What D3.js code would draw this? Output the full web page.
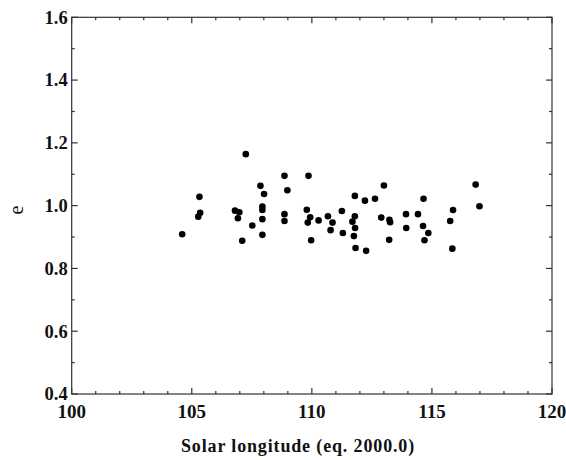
<!DOCTYPE html>
<html><head><meta charset="utf-8">
<script src="https://cdn.jsdelivr.net/npm/d3@7"></script>
<style>body{margin:0;background:#fff}svg{display:block}</style>
</head><body>
<script>
const solarLongitude = [107.25,105.32,105.35,105.27,104.6,106.8,106.98,106.92,107.1,107.52,107.86,108.01,107.94,107.94,107.94,107.94,108.86,108.98,108.86,108.86,109.86,109.79,109.93,109.83,110.28,109.97,110.67,110.78,110.86,111.25,111.29,111.79,112.21,112.63,113.0,111.79,111.69,111.80,111.75,111.82,112.26,112.89,113.23,113.26,113.22,113.92,113.93,114.42,114.65,114.63,114.85,114.69,115.88,115.76,115.85,116.82,116.98];
const eccentricity = [1.164,1.028,0.977,0.965,0.909,0.984,0.979,0.960,0.888,0.937,1.063,1.037,0.997,0.986,0.957,0.907,1.095,1.049,0.973,0.951,1.095,0.987,0.963,0.946,0.953,0.890,0.966,0.922,0.946,0.983,0.913,1.031,1.016,1.022,1.064,0.966,0.949,0.929,0.903,0.865,0.856,0.962,0.955,0.947,0.891,0.973,0.929,0.973,1.022,0.935,0.913,0.890,0.986,0.951,0.863,1.067,0.998];
const xTicks = [100,105,110,115,120];
const yTicks = [0.4,0.6,0.8,1.0,1.2,1.4,1.6];
const xMinor = d3.range(100,121,1);
const yMinor = d3.range(4,17,1).map(v=>v/10);

const W=566,H=460;
const L=71.7,R=552,T=17.3,B=394;
const svg=d3.select("body").append("svg").attr("width",W).attr("height",H);
const x=d3.scaleLinear().domain([100,120]).range([L,R]);
const y=d3.scaleLinear().domain([0.4,1.6]).range([B,T]);
const font="'Liberation Serif','Times New Roman',serif";
const axisColor="#333";

svg.append("rect").attr("x",L).attr("y",T).attr("width",R-L).attr("height",B-T)
  .attr("fill","none").attr("stroke",axisColor).attr("stroke-width",1.2);

const g=svg.append("g").attr("stroke",axisColor).attr("stroke-width",1.2);
xMinor.forEach(v=>{
  const len = xTicks.includes(v)?6:3;
  g.append("line").attr("x1",x(v)).attr("x2",x(v)).attr("y1",B).attr("y2",B-len);
  g.append("line").attr("x1",x(v)).attr("x2",x(v)).attr("y1",T).attr("y2",T+len);
});
yMinor.forEach(v=>{
  const len = yTicks.some(t=>Math.abs(t-v)<1e-6)?6:3;
  g.append("line").attr("y1",y(v)).attr("y2",y(v)).attr("x1",L).attr("x2",L+len);
  g.append("line").attr("y1",y(v)).attr("y2",y(v)).attr("x1",R).attr("x2",R-len);
});

svg.append("g").selectAll("text").data(xTicks).join("text")
  .attr("x",d=>x(d)).attr("y",417.5).attr("text-anchor","middle")
  .attr("font-family",font).attr("font-weight","bold").attr("font-size",19)
  .attr("fill","#111").text(d=>d);
svg.append("g").selectAll("text").data(yTicks).join("text")
  .attr("x",L-4).attr("y",d=>y(d)+6.4).attr("text-anchor","end")
  .attr("font-family",font).attr("font-weight","bold").attr("font-size",18.5)
  .attr("fill","#111").text(d=>d.toFixed(1));

svg.append("text").attr("x",181).attr("y",452).attr("text-anchor","start")
  .attr("font-family",font).attr("font-weight","bold").attr("font-size",18)
  .attr("letter-spacing",0.8)
  .attr("textLength",234).attr("lengthAdjust","spacing")
  .attr("fill","#111").text("Solar longitude (eq. 2000.0)");
svg.append("text").attr("transform","translate(23,210) rotate(-90)").attr("text-anchor","middle")
  .attr("font-family",font).attr("font-size",20).attr("fill","#111").text("e");

svg.append("g").selectAll("circle").data(solarLongitude.map((d,i)=>[d,eccentricity[i]])).join("circle")
  .attr("cx",d=>x(d[0])).attr("cy",d=>y(d[1])).attr("r",3.3).attr("fill","#000");
</script>
</body></html>
